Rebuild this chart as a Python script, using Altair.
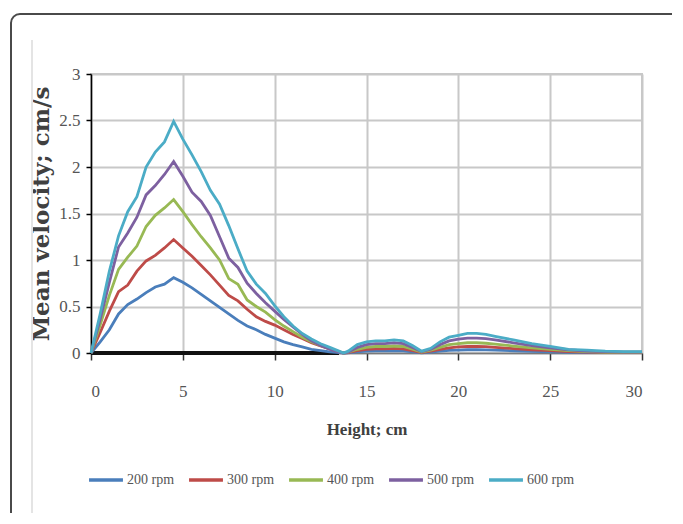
import altair as alt
import pandas as pd

# ---- data ----
height = [0, 0.5, 1, 1.5, 2, 2.5, 3, 3.5, 4, 4.5, 5, 5.5, 6, 6.5, 7, 7.5, 8, 8.5, 9, 9.5,
          10, 10.5, 11, 11.5, 12, 12.5, 13, 13.5, 13.75,
          14, 14.5, 15, 15.5, 16, 16.5, 17, 17.5, 18, 18.5, 19, 19.5, 20, 20.5, 21, 21.5, 22,
          23, 24, 25, 26, 27, 28, 29, 30]

rpm200 = [0, 0.12, 0.25, 0.42, 0.52, 0.58, 0.65, 0.71, 0.74, 0.81,
          0.76, 0.70, 0.63, 0.56, 0.49, 0.42, 0.35, 0.29, 0.25, 0.20,
          0.16, 0.12, 0.09, 0.065, 0.04, 0.025, 0.012, 0.005, 0,
          0.002, 0.012, 0.02, 0.022, 0.022, 0.025, 0.022, 0.012, 0.002, 0.01, 0.02, 0.028, 0.032, 0.035, 0.035, 0.034, 0.03,
          0.024, 0.018, 0.012, 0.008, 0.005, 0.004, 0.003, 0.003]
rpm300 = [0, 0.22, 0.45, 0.66, 0.73, 0.88, 0.99, 1.05, 1.13, 1.22,
          1.13, 1.04, 0.94, 0.84, 0.73, 0.62, 0.56, 0.47, 0.39, 0.34,
          0.30, 0.25, 0.20, 0.155, 0.11, 0.075, 0.045, 0.015, 0,
          0.005, 0.025, 0.04, 0.045, 0.045, 0.05, 0.045, 0.025, 0.005, 0.02, 0.04, 0.055, 0.065, 0.07, 0.07, 0.068, 0.06,
          0.048, 0.035, 0.025, 0.016, 0.01, 0.007, 0.005, 0.005]
rpm400 = [0, 0.30, 0.62, 0.90, 1.03, 1.15, 1.36, 1.48, 1.56, 1.65,
          1.52, 1.38, 1.25, 1.13, 1.00, 0.80, 0.74, 0.57, 0.50, 0.44,
          0.36, 0.29, 0.23, 0.17, 0.12, 0.08, 0.045, 0.015, 0,
          0.01, 0.04, 0.06, 0.07, 0.07, 0.075, 0.07, 0.04, 0.01, 0.03, 0.06, 0.09, 0.10, 0.11, 0.11, 0.105, 0.095,
          0.075, 0.055, 0.04, 0.025, 0.015, 0.01, 0.008, 0.008]
rpm500 = [0, 0.36, 0.76, 1.14, 1.29, 1.46, 1.70, 1.80, 1.92, 2.06,
          1.90, 1.73, 1.63, 1.48, 1.25, 1.02, 0.92, 0.75, 0.64, 0.54,
          0.45, 0.36, 0.28, 0.20, 0.13, 0.08, 0.04, 0.01, 0,
          0.01, 0.06, 0.09, 0.10, 0.10, 0.11, 0.10, 0.06, 0.015, 0.04, 0.09, 0.13, 0.15, 0.16, 0.16, 0.155, 0.14,
          0.11, 0.08, 0.055, 0.035, 0.02, 0.015, 0.01, 0.01]
rpm600 = [0, 0.42, 0.88, 1.26, 1.52, 1.68, 2.0, 2.16, 2.27, 2.49,
          2.30, 2.13, 1.95, 1.75, 1.60, 1.37, 1.12, 0.88, 0.74, 0.64,
          0.51, 0.39, 0.29, 0.21, 0.15, 0.10, 0.06, 0.02, 0,
          0.02, 0.09, 0.12, 0.13, 0.13, 0.14, 0.13, 0.08, 0.02, 0.05, 0.12, 0.17, 0.19, 0.21, 0.21, 0.20, 0.18,
          0.14, 0.10, 0.07, 0.04, 0.03, 0.02, 0.015, 0.015]

series_names = ["200 rpm", "300 rpm", "400 rpm", "500 rpm", "600 rpm"]
series_colors = ["#4A7EBB", "#BE4B48", "#98B954", "#7D60A0", "#4BACC6"]

base_h = [0, 13.5]
base_v = [0, 0]

x_ticks = [0, 5, 10, 15, 20, 25, 30]
y_ticks = [0, 0.5, 1, 1.5, 2, 2.5, 3]

# ---- tables ----
rows = []
for name, vals in zip(series_names, [rpm200, rpm300, rpm400, rpm500, rpm600]):
    for h, v in zip(height, vals):
        rows.append({"h": h, "v": v, "s": name})
df = pd.DataFrame(rows)
df_base = pd.DataFrame({"h": base_h, "v": base_v})

W, H = 551, 279
SERIF = "Liberation Serif"

x_enc = alt.X("h:Q", scale=alt.Scale(domain=[0, 30], nice=False),
              axis=alt.Axis(values=x_ticks, title="Height; cm", grid=True,
                            gridColor="#c8c8c8", gridWidth=2,
                            domainColor="#7a7a7a", domainWidth=1.5,
                            tickColor="#333333", tickSize=7, tickWidth=1.5,
                            labelPadding=23, labelFont=SERIF, labelFontSize=17,
                            labelColor="#555555", titleFont=SERIF, titleFontSize=17,
                            titleFontWeight="bold", titleColor="#404040", titlePadding=22))
y_enc = alt.Y("v:Q", scale=alt.Scale(domain=[0, 3], nice=False),
              axis=alt.Axis(values=y_ticks, labelExpr="datum.value + ''",
                            title="Mean velocity; cm/s", grid=True,
                            gridColor="#c8c8c8", gridWidth=2,
                            domainColor="#000000", domainWidth=1.5,
                            tickColor="#000000", tickSize=5, tickWidth=1.5,
                            labelPadding=6, labelFont=SERIF, labelFontSize=17,
                            labelColor="#555555", titleFont="DejaVu Serif", titleFontSize=23,
                            titleFontWeight="bold", titleColor="#404040", titlePadding=5))

frame = alt.Chart(pd.DataFrame({"k": [0]})).mark_rect(
    fill="transparent", stroke="#4a4a4a", strokeWidth=2, cornerRadius=9
).encode(x=alt.value(-80), x2=alt.value(W + 80), y=alt.value(-60), y2=alt.value(H + 260))

vline = alt.Chart(pd.DataFrame({"k": [0]})).mark_rule(
    color="#e4e4e4", strokeWidth=2
).encode(x=alt.value(-59), y=alt.value(-34), y2=alt.value(H + 260))

base = alt.Chart(df_base).mark_line(color="#111111", strokeWidth=4).encode(
    x=alt.X("h:Q"), y=alt.Y("v:Q"))

lines = alt.Chart(df).mark_line(strokeWidth=2.8).encode(
    x=x_enc, y=y_enc,
    color=alt.Color("s:N", scale=alt.Scale(domain=series_names, range=series_colors),
                    legend=alt.Legend(title=None, orient="none", legendX=-4, legendY=387,
                                      direction="horizontal", symbolType="stroke",
                                      symbolSize=1150, symbolStrokeWidth=3.5,
                                      labelFont=SERIF, labelFontSize=14,
                                      labelColor="#555555", labelOffset=2,
                                      columnPadding=7))
)

chart = alt.layer(frame, vline, base, lines).properties(
    width=W, height=H,
    padding={"left": 83, "top": 66, "right": 30, "bottom": 160},
    autosize=alt.AutoSizeParams(type="none"),
).configure_view(stroke="#c8c8c8", strokeWidth=2)

chart.save("out.html", embed_options={"renderer": "svg", "actions": False})
